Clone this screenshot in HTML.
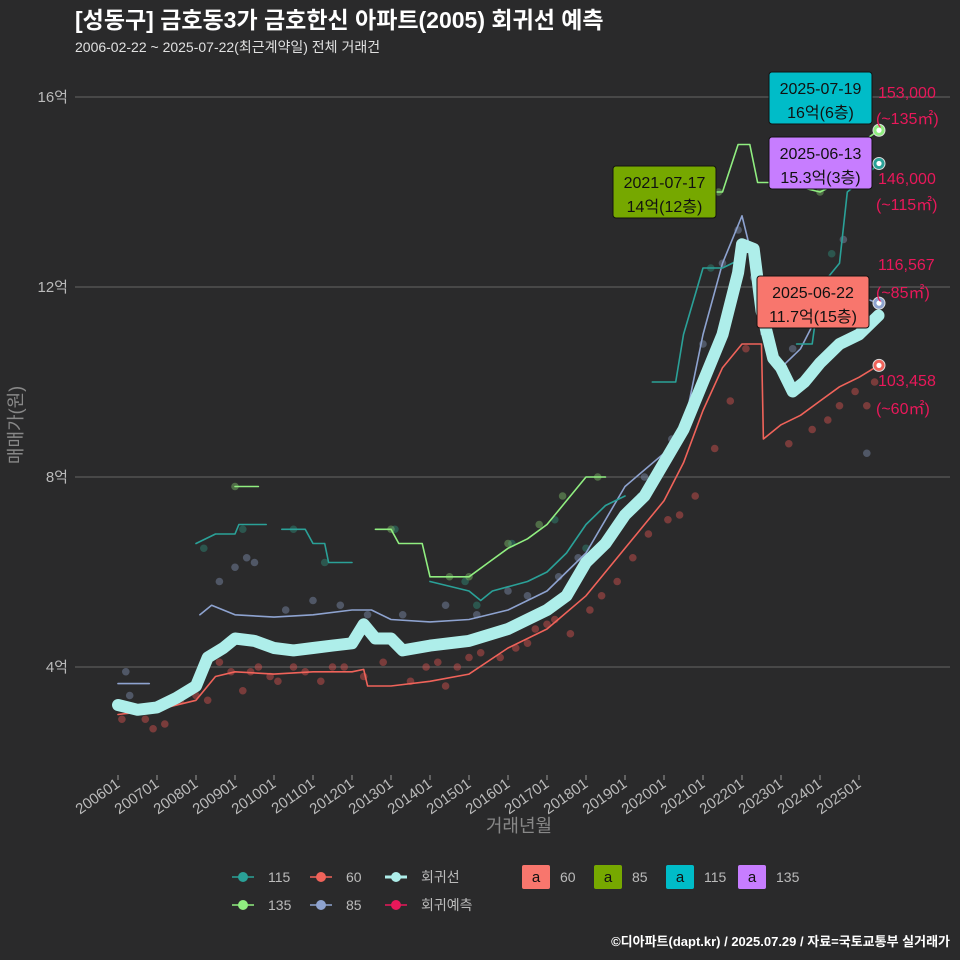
<!DOCTYPE html>
<html><head><meta charset="utf-8">
<style>
body{margin:0;background:#2a2a2b;overflow:hidden;}
svg{display:block;}
svg text{font-family:"Liberation Sans","Noto Sans CJK KR",sans-serif;}
</style></head><body>
<svg id="chart" width="960" height="960" viewBox="0 0 960 960" xmlns="http://www.w3.org/2000/svg">
<rect width="960" height="960" fill="#2a2a2b"/>
<text x="75" y="28" fill="#ffffff" font-size="23" font-weight="bold">[성동구] 금호동3가 금호한신 아파트(2005) 회귀선 예측</text>
<text x="75" y="52" fill="#e0e0e0" font-size="14">2006-02-22 ~ 2025-07-22(최근계약일) 전체 거래건</text>
<g id="grid"></g>
<g id="yaxis"></g>
<g id="xaxis"></g>
<text transform="translate(22,425) rotate(-90)" text-anchor="middle" fill="#888" font-size="18">매매가(원)</text>
<text x="519" y="832" text-anchor="middle" fill="#888" font-size="18">거래년월</text>
<g id="pts"></g>
<g id="lines"></g>
<g id="ann"></g>
<g id="legend"></g>
<text x="950" y="946" text-anchor="end" fill="#ffffff" font-size="13" font-weight="bold">©디아파트(dapt.kr) / 2025.07.29 / 자료=국토교통부 실거래가</text>
</svg>
<script>
const yTicks=[4,8,12,16];
const xTickLabels=["200601","200701","200801","200901","201001","201101","201201","201301","201401","201501","201601","201701","201801","201901","202001","202101","202201","202301","202401","202501"];
const regT=[2006.0,2006.5,2007.0,2007.5,2008.0,2008.3,2008.7,2009.0,2009.5,2010.0,2010.5,2011.0,2011.5,2012.0,2012.3,2012.6,2013.0,2013.3,2014.0,2015.0,2016.0,2016.5,2017.0,2017.5,2018.0,2018.5,2019.0,2019.5,2020.0,2020.5,2021.0,2021.5,2021.9,2022.0,2022.3,2022.5,2022.8,2023.0,2023.3,2023.6,2024.0,2024.5,2025.0,2025.5];
const regV=[3.2,3.1,3.15,3.35,3.6,4.2,4.4,4.6,4.55,4.4,4.35,4.4,4.45,4.5,4.9,4.6,4.6,4.35,4.45,4.55,4.8,5.0,5.2,5.5,6.2,6.6,7.2,7.6,8.3,9.0,10.0,11.0,12.3,12.9,12.8,11.5,10.5,10.3,9.8,10.0,10.4,10.8,11.0,11.4];
const s60T=[2006.0,2007.0,2008.0,2008.5,2009.0,2010.0,2011.0,2012.0,2012.3,2012.4,2013.0,2014.0,2015.0,2016.0,2017.0,2018.0,2019.0,2019.5,2020.0,2020.5,2021.0,2021.5,2022.0,2022.5,2022.55,2023.0,2023.5,2024.0,2024.5,2025.0,2025.5];
const s60V=[3.0,3.1,3.3,3.8,3.9,3.85,3.9,3.9,3.95,3.6,3.6,3.7,3.85,4.4,4.8,5.5,6.5,7.0,7.5,8.3,9.4,10.3,10.8,10.8,8.8,9.1,9.3,9.6,9.9,10.1,10.35];
const s85T=[[2006.0,2006.8],[2008.1,2008.4,2009.0,2010.0,2011.0,2012.0,2012.5,2013.0,2014.0,2015.0,2016.0,2017.0,2018.0,2019.0,2020.0,2020.5,2021.0,2021.5,2022.0,2022.3,2022.5],[2023.0,2023.5,2024.0,2024.5,2025.0,2025.5]];
const s85V=[[3.65,3.65],[5.1,5.3,5.1,5.05,5.1,5.2,5.2,5.0,4.95,5.0,5.2,5.6,6.4,7.8,8.5,9.0,11.0,12.5,13.5,12.5,11.0],[10.3,10.7,11.5,12.0,11.8,11.66]];
const s115T=[[2008.0,2008.5,2009.0,2009.1,2009.8],[2010.2,2010.8,2011.0,2011.3,2011.4,2012.0],[2014.0,2015.0,2015.3,2015.6,2016.5,2017.0,2017.5,2018.0,2018.5,2019.0],[2019.7,2020.3,2020.5,2021.0,2021.5,2022.0],[2023.4,2023.8,2024.0,2024.5,2024.7,2025.0,2025.5]];
const s115V=[[6.6,6.8,6.8,7.0,7.0],[6.9,6.9,6.6,6.6,6.2,6.2],[5.8,5.6,5.4,5.6,5.8,6.0,6.4,7.0,7.4,7.6],[10.0,10.0,11.0,12.4,12.4,12.6],[10.8,10.8,12.0,12.5,14.0,14.2,14.6]];
const s135T=[[2009.0,2009.6],[2012.6,2013.0,2013.2,2013.8,2014.0,2015.0,2015.5,2016.0,2016.5,2017.0,2017.5,2018.0,2018.5],[2021.0,2021.5,2021.9,2022.2,2022.4,2023.0,2024.0,2024.5,2025.0,2025.5]];
const s135V=[[7.8,7.8],[6.9,6.9,6.6,6.6,5.9,5.9,6.2,6.5,6.7,7.0,7.5,8.0,8.0],[14.0,14.0,15.0,15.0,14.2,14.2,14.0,14.2,15.0,15.3]];
const p60T=[2006.1,2006.7,2006.9,2007.2,2007.6,2008.0,2008.3,2008.6,2008.9,2009.2,2009.4,2009.6,2009.9,2010.1,2010.5,2010.8,2011.2,2011.5,2011.8,2012.3,2012.8,2013.5,2013.9,2014.2,2014.4,2014.7,2015.0,2015.3,2015.8,2016.2,2016.5,2016.7,2017.0,2017.2,2017.6,2018.1,2018.4,2018.8,2019.2,2019.6,2020.1,2020.4,2020.8,2021.3,2021.7,2022.1,2023.2,2023.8,2024.2,2024.5,2024.9,2025.2,2025.4];
const p60V=[2.9,2.9,2.7,2.8,3.3,3.4,3.3,4.1,3.9,3.5,3.9,4.0,3.8,3.7,4.0,3.9,3.7,4.0,4.0,3.8,4.1,3.7,4.0,4.1,3.6,4.0,4.2,4.3,4.2,4.4,4.5,4.8,4.9,5.0,4.7,5.2,5.5,5.8,6.3,6.8,7.1,7.2,7.6,8.6,9.6,10.7,8.7,9.0,9.2,9.5,9.8,9.5,10.0];
const p85T=[2006.2,2006.3,2008.6,2009.0,2009.3,2009.5,2010.3,2011.0,2011.7,2012.4,2013.3,2014.4,2015.2,2016.0,2016.5,2017.3,2017.8,2018.3,2019.5,2020.2,2021.0,2021.5,2021.9,2022.3,2022.7,2023.3,2023.9,2024.6,2025.2];
const p85V=[3.9,3.4,5.8,6.1,6.3,6.2,5.2,5.4,5.3,5.1,5.1,5.3,5.1,5.6,5.5,5.9,6.3,6.4,8.0,8.8,10.8,12.5,13.2,12.2,11.3,10.7,12.0,13.0,8.5];
const p115T=[2008.2,2009.2,2010.5,2011.3,2013.1,2014.9,2015.2,2016.1,2017.2,2018.0,2019.4,2021.2,2024.3,2024.6];
const p115V=[6.5,6.9,6.9,6.2,6.9,5.8,5.3,6.6,7.1,6.5,7.6,12.4,12.7,14.2];
const p135T=[2009.0,2013.0,2014.5,2015.0,2016.0,2016.8,2017.4,2018.3,2021.4,2022.8,2024.0];
const p135V=[7.8,6.9,5.9,5.9,6.6,7.0,7.6,8.0,14.0,14.3,14.0];

const NS="http://www.w3.org/2000/svg";
const X=t=>118+39*(t-2006);
const Y=v=>667-(v-4)*47.5;
function mk(tag,attrs,parent){const e=document.createElementNS(NS,tag);for(const k in attrs)e.setAttribute(k,attrs[k]);parent.appendChild(e);return e;}
const grid=document.getElementById('grid'),ya=document.getElementById('yaxis'),xa=document.getElementById('xaxis');
yTicks.forEach(v=>{
 const l=mk('line',{x1:75,x2:950,y1:Y(v),y2:Y(v),stroke:'#5a5a5a','stroke-width':1.2},grid);
 
 
 const t=mk('text',{x:68,y:Y(v)+5,'text-anchor':'end',fill:'#bbb','font-size':15},ya);
 t.textContent=v+'억';
 
 
});
xTickLabels.forEach((s,i)=>{
 const x=X(2006+i);
 const tk=mk('line',{x1:x,x2:x,y1:775,y2:780,stroke:'#999'},xa);
 
 
 const t=mk('text',{transform:`translate(${x+3},${786}) rotate(-35)`,'text-anchor':'end',fill:'#bbb','font-size':15},xa);
 t.textContent=s;
 
 
});
const pts=document.getElementById('pts');
function scat(T,V,c,name){T.forEach((t,i)=>{const p=mk('circle',{cx:X(t),cy:Y(V[i]),r:3.8,fill:c,'fill-opacity':0.45},pts);
 
 });}
scat(p60T,p60V,'#d9534f','point-60');
scat(p85T,p85V,'#7f8fb0','point-85');
scat(p115T,p115V,'#2e8b7a','point-115');
scat(p135T,p135V,'#7fbf6a','point-135');
const lines=document.getElementById('lines');
function path(T,V,c,w,name){const d=T.map((t,i)=>(i?'L':'M')+X(t).toFixed(1)+','+Y(V[i]).toFixed(1)).join('');
 const p=mk('path',{d:d,fill:'none',stroke:c,'stroke-width':w,'stroke-linejoin':'round','stroke-linecap':'round'},lines);
 
 }
path(s60T,s60V,'#f0635a',1.6,'line-60');
s85T.forEach((T,i)=>path(T,s85V[i],'#8ea3d0',1.6,'line-85'));
s115T.forEach((T,i)=>path(T,s115V[i],'#2aa198',1.6,'line-115'));
s135T.forEach((T,i)=>path(T,s135V[i],'#90ee80',1.6,'line-135'));
path(regT,regV,'#aeeeea',12,'regression-line');
[[s135V[2][9],'#90ee80'],[s115V[4][6],'#2aa198'],[s85V[2][5],'#8ea3d0'],[s60V[30],'#f0635a']].forEach(([v,c])=>{
 const o=mk('circle',{cx:879,cy:Y(v),r:6,fill:c,stroke:'#ddd','stroke-width':1},lines);
 
 
 const w=mk('circle',{cx:879,cy:Y(v),r:2.6,fill:'#fff'},lines);
 
 
});
const ann=document.getElementById('ann');
function box(x,y,w,h,c,l1,l2,name){const g=mk('g',{},ann);
 
 
 mk('rect',{x:x,y:y,width:w,height:h,rx:3,fill:c,stroke:'#111','stroke-width':1},g);
 const a=mk('text',{x:x+w/2,y:y+22,'text-anchor':'middle',fill:'#111','font-size':16},g);a.textContent=l1;
 const b=mk('text',{x:x+w/2,y:y+46,'text-anchor':'middle',fill:'#111','font-size':16},g);b.textContent=l2;}
box(769,72,103,52,'#00bcc8','2025-07-19','16억(6층)','annotation-115');
box(769,137,103,52,'#c77dff','2025-06-13','15.3억(3층)','annotation-135');
box(613,166,103,52,'#76a800','2021-07-17','14억(12층)','annotation-85-record');
box(757,276,112,52,'#f8766d','2025-06-22','11.7억(15층)','annotation-60');
[['153,000',98],['(~135㎡)',124],['146,000',184],['(~115㎡)',210],['116,567',270],['(~85㎡)',298],['103,458',386],['(~60㎡)',414]].forEach(([s,y],i)=>{
 const t=mk('text',{x:i%2?876:878,y:y,fill:'#e8185a','font-size':16},ann);t.textContent=s;
 
 });
const lg=document.getElementById('legend');
function lgLine(x,y,c,label,w){const g=mk('g',{},lg);
 
 
 mk('line',{x1:x,x2:x+22,y1:y,y2:y,stroke:c,'stroke-width':w||1.6},g);
 mk('circle',{cx:x+11,cy:y,r:5,fill:c},g);
 const t=mk('text',{x:x+36,y:y+5,fill:'#bbb','font-size':14},g);t.textContent=label;}
lgLine(232,877,'#2aa198','115');lgLine(310,877,'#f0635a','60');lgLine(385,877,'#aeeeea','회귀선',3);
lgLine(232,905,'#90ee80','135');lgLine(310,905,'#8ea3d0','85');lgLine(385,905,'#e8185a','회귀예측');
[['#f8766d','60',522],['#76a800','85',594],['#00bcc8','115',666],['#c77dff','135',738]].forEach(([c,l,x])=>{
 const g=mk('g',{},lg);
 
 
 mk('rect',{x:x,y:865,width:28,height:24,rx:2,fill:c},g);
 const a=mk('text',{x:x+14,y:882,'text-anchor':'middle',fill:'#111','font-size':15},g);a.textContent='a';
 const t=mk('text',{x:x+38,y:882,fill:'#bbb','font-size':14},g);t.textContent=l;});
</script>
</body></html>
